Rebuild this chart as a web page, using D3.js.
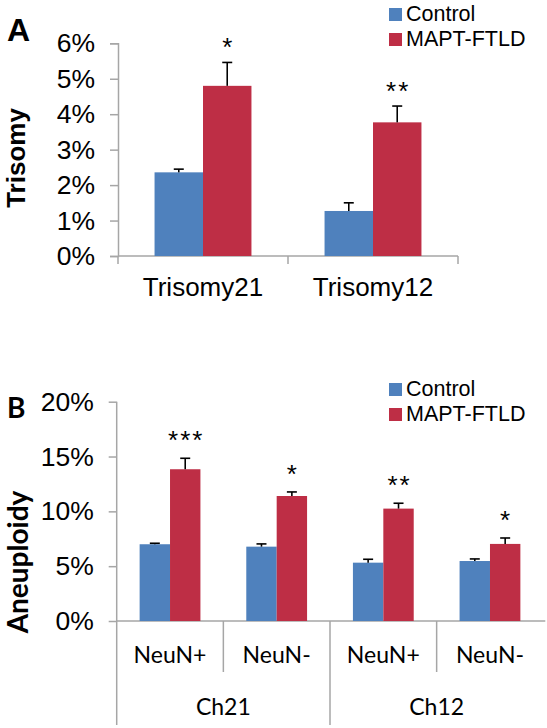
<!DOCTYPE html>
<html>
<head>
<meta charset="utf-8">
<script src="https://cdn.jsdelivr.net/npm/d3@7"></script>
<style>
  html, body { margin: 0; padding: 0; background: #fff; }
  svg { display: block; }
</style>
</head>
<body>
<svg id="chart" width="547" height="728"></svg>
<script>
// ---------- DATA ----------
const seriesNames = ["Control", "MAPT-FTLD"];
const seriesColors = ["#4F81BD", "#BE2E45"];

// Panel A
const catsA = ["Trisomy21", "Trisomy12"];
const controlA = [0.0236, 0.0127];
const controlAErr = [0.0009, 0.0023];
const maptA = [0.0480, 0.0377];
const maptAErr = [0.0066, 0.0046];
const starsA = ["*", "**"];
const ticksA = [0, 0.01, 0.02, 0.03, 0.04, 0.05, 0.06];

// Panel B
const groupsB = ["Ch21", "Ch12"];
const subCatsB = ["NeuN+", "NeuN-"];
const controlB = [0.0700, 0.0678, 0.0532, 0.0547];
const controlBErr = [0.0009, 0.0025, 0.0031, 0.0019];
const maptB = [0.1384, 0.1140, 0.1025, 0.0703];
const maptBErr = [0.0100, 0.0037, 0.0049, 0.0054];
const starsB = ["***", "*", "**", "*"];
const ticksB = [0, 0.05, 0.10, 0.15, 0.20];

// ---------- DRAW ----------
const svg = d3.select("#chart");
const AXIS = "#A6A6A6";
const ARIAL = "'Liberation Sans', Arial, sans-serif";
const CAL = "Lato, 'Open Sans', sans-serif";

function drawBars(g, catKeys, x0, y, values) {
  const bw = x0.bandwidth();
  const x1 = d3.scaleBand().domain(seriesNames).range([bw * 0.215, bw * 0.785]).padding(0);
  const rows = catKeys.map((k, i) => ({ k, i }));
  seriesNames.forEach((s, si) => {
    const vals = values[si].v, errs = values[si].e;
    g.append("g").selectAll("rect").data(rows).join("rect")
      .attr("x", d => x0(d.k) + x1(s))
      .attr("y", d => y(vals[d.i]))
      .attr("width", x1.bandwidth())
      .attr("height", d => y(0) - y(vals[d.i]))
      .attr("fill", seriesColors[si]);
    const eg = g.append("g").attr("stroke", "#000").attr("stroke-width", 1.6);
    rows.forEach(d => {
      const cx = x0(d.k) + x1(s) + x1.bandwidth() / 2;
      const yt = y(vals[d.i] + errs[d.i]);
      eg.append("line").attr("x1", cx).attr("x2", cx).attr("y1", y(vals[d.i])).attr("y2", yt);
      eg.append("line").attr("x1", cx - 5).attr("x2", cx + 5).attr("y1", yt).attr("y2", yt);
    });
  });
  return x1;
}

function legend(g, x, y) {
  seriesNames.forEach((s, i) => {
    const yy = y + i * 25;
    g.append("rect").attr("x", x).attr("y", yy - 13).attr("width", 13).attr("height", 13)
      .attr("fill", seriesColors[i]);
    g.append("text").attr("x", x + 17).attr("y", yy)
      .attr("font-family", ARIAL).attr("font-size", 21.5).attr("fill", "#000").text(s);
  });
}

// ===== Panel A =====
{
  const g = svg.append("g");
  const left = 118, right = 458, bottom = 256, top = 43.3;
  const y = d3.scaleLinear().domain([0, 0.06]).range([bottom, top]);
  const x0 = d3.scaleBand().domain(catsA).range([left, right]).padding(0);

  const yAx = g.append("g").attr("transform", `translate(${left},0)`)
    .call(d3.axisLeft(y).tickValues(ticksA).tickFormat(d3.format(".0%")).tickSize(8).tickPadding(15));
  yAx.select(".domain").attr("stroke", AXIS).attr("stroke-width", 1.5);
  yAx.selectAll(".tick line").attr("stroke", AXIS).attr("stroke-width", 1.5);
  yAx.selectAll(".tick text").attr("font-family", ARIAL).attr("font-size", 26.5).attr("fill", "#000");

  g.append("line").attr("x1", left).attr("x2", right).attr("y1", bottom).attr("y2", bottom)
    .attr("stroke", AXIS).attr("stroke-width", 1.5);
  const bounds = [left].concat(catsA.map(c => x0(c) + x0.bandwidth()));
  g.selectAll(".bt").data(bounds).join("line")
    .attr("x1", d => d).attr("x2", d => d).attr("y1", bottom).attr("y2", bottom + 8)
    .attr("stroke", AXIS).attr("stroke-width", 1.5);
  g.selectAll(".cl").data(catsA).join("text")
    .attr("x", d => x0(d) + x0.bandwidth() / 2).attr("y", 296)
    .attr("text-anchor", "middle").attr("font-family", ARIAL).attr("font-size", 26).text(d => d);

  const x1 = drawBars(g, catsA, x0, y, [{ v: controlA, e: controlAErr }, { v: maptA, e: maptAErr }]);
  g.selectAll(".st").data(catsA).join("text")
    .attr("x", d => x0(d) + x1("MAPT-FTLD") + x1.bandwidth() / 2 + 1)
    .attr("y", (d, i) => y(maptA[i] + maptAErr[i]) - 6)
    .attr("text-anchor", "middle").attr("font-family", ARIAL).attr("font-size", 26)
    .attr("letter-spacing", 2).text((d, i) => starsA[i]);

  g.append("text").attr("transform", `translate(25,158) rotate(-90)`)
    .attr("text-anchor", "middle").attr("font-family", ARIAL).attr("font-weight", "bold")
    .attr("font-size", 26).text("Trisomy");
  g.append("text").attr("x", 7).attr("y", 41).attr("font-family", ARIAL).attr("font-weight", "bold")
    .attr("font-size", 32).text("A");
  legend(g, 389, 21);
}

// ===== Panel B =====
{
  const g = svg.append("g");
  const left = 116.7, right = 543.3, bottom = 621, top = 401.7;
  const y = d3.scaleLinear().domain([0, 0.2]).range([bottom, top]);
  const keys = [];
  groupsB.forEach(gr => subCatsB.forEach(sc => keys.push(gr + "|" + sc)));
  const x0 = d3.scaleBand().domain(keys).range([left, right]).padding(0);
  const xg = d3.scaleBand().domain(groupsB).range([left, right]).padding(0);

  const yAx = g.append("g").attr("transform", `translate(${left},0)`)
    .call(d3.axisLeft(y).tickValues(ticksB).tickFormat(d3.format(".0%")).tickSize(8).tickPadding(15));
  yAx.select(".domain").remove();
  yAx.selectAll(".tick line").attr("stroke", AXIS).attr("stroke-width", 1.5);
  yAx.selectAll(".tick text").attr("font-family", ARIAL).attr("font-size", 26.5).attr("fill", "#000");

  g.append("line").attr("x1", left).attr("x2", left).attr("y1", top).attr("y2", 725)
    .attr("stroke", AXIS).attr("stroke-width", 1.5);
  g.append("line").attr("x1", left).attr("x2", right + 2).attr("y1", bottom).attr("y2", bottom)
    .attr("stroke", AXIS).attr("stroke-width", 1.5);
  groupsB.forEach((gr, gi) => {
    subCatsB.slice(1).forEach(sc => {
      const xx = x0(gr + "|" + sc);
      g.append("line").attr("x1", xx).attr("x2", xx).attr("y1", bottom).attr("y2", 672)
        .attr("stroke", AXIS).attr("stroke-width", 1.5);
    });
    if (gi > 0) {
      const xx = xg(gr);
      g.append("line").attr("x1", xx).attr("x2", xx).attr("y1", bottom).attr("y2", 725)
        .attr("stroke", AXIS).attr("stroke-width", 1.5);
    }
  });
  g.selectAll(".cl").data(keys).join("text")
    .attr("x", d => x0(d) + x0.bandwidth() / 2).attr("y", 663)
    .attr("text-anchor", "middle").attr("font-family", CAL).attr("font-size", 23)
    .text(d => d.split("|")[1]);
  g.selectAll(".gl").data(groupsB).join("text")
    .attr("x", d => xg(d) + xg.bandwidth() / 2).attr("y", 715)
    .attr("text-anchor", "middle").attr("font-family", CAL).attr("font-size", 23).text(d => d);

  const x1 = drawBars(g, keys, x0, y, [{ v: controlB, e: controlBErr }, { v: maptB, e: maptBErr }]);
  g.selectAll(".st").data(keys).join("text")
    .attr("x", d => x0(d) + x1("MAPT-FTLD") + x1.bandwidth() / 2 + 1)
    .attr("y", (d, i) => y(maptB[i] + maptBErr[i]) - 9)
    .attr("text-anchor", "middle").attr("font-family", ARIAL).attr("font-size", 26)
    .attr("letter-spacing", 2).text((d, i) => starsB[i]);

  g.append("text").attr("transform", `translate(28,562) rotate(-90)`)
    .attr("text-anchor", "middle").attr("font-family", CAL).attr("font-weight", "bold")
    .attr("font-size", 28).text("Aneuploidy");
  g.append("text").attr("x", 7).attr("y", 418).attr("font-family", CAL).attr("font-weight", "bold")
    .attr("font-size", 28).text("B");
  legend(g, 389, 396);
}
</script>
</body>
</html>
